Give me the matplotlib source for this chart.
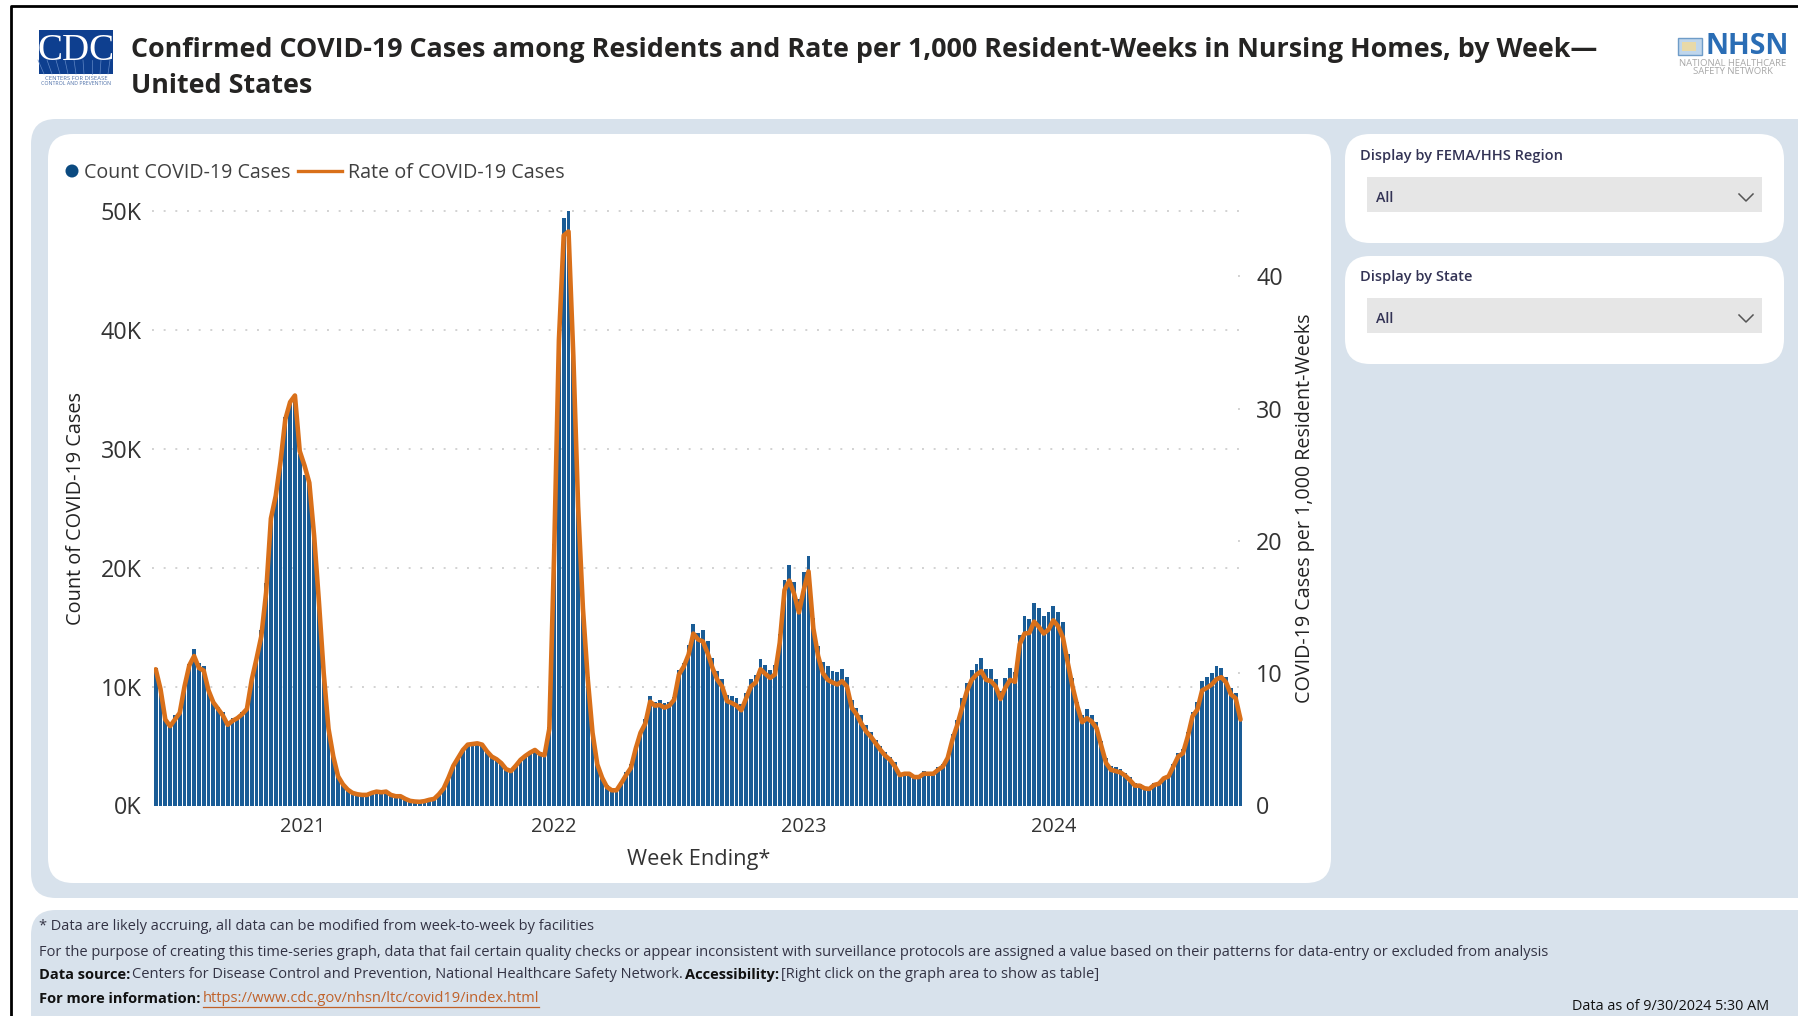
import matplotlib
matplotlib.use("Agg")
import matplotlib.pyplot as plt
import pandas as pd
from matplotlib.patches import FancyBboxPatch, Rectangle, Circle

plt.rcParams['font.family'] = ['Open Sans', 'DejaVu Sans']

# Weekly values, counts in thousands
countK = [
    11.6, 10.0, 7.4, 6.7, 7.6, 7.8, 10.3, 11.9, 13.2, 12.0,
    11.7, 9.7, 8.9, 8.3, 7.9, 6.8, 7.4, 7.4, 7.9, 8.2,
    10.7, 12.3, 14.8, 18.7, 24.0, 26.1, 29.4, 32.7, 33.8, 34.4,
    29.6, 27.8, 27.4, 22.6, 17.3, 10.9, 6.5, 4.1, 2.6, 1.8,
    1.4, 1.1, 0.95, 0.9, 0.9, 1.05, 1.15, 1.15, 1.15, 0.9,
    0.8, 0.8, 0.55, 0.4, 0.35, 0.3, 0.37, 0.5, 0.55, 0.95,
    1.5, 2.3, 3.2, 4.0, 4.7, 5.1, 5.2, 5.3, 5.1, 4.6,
    4.1, 3.9, 3.6, 3.1, 2.9, 3.3, 3.8, 4.2, 4.4, 4.6,
    4.5, 4.4, 6.6, 22.0, 38.7, 49.4, 50.0, 38.7, 25.4, 16.6,
    10.8, 6.3, 3.7, 2.5, 1.7, 1.35, 1.3, 2.0, 2.8, 3.5,
    5.0, 6.3, 7.3, 9.2, 8.7, 8.9, 8.6, 8.7, 9.1, 11.4,
    12.0, 13.5, 15.3, 14.5, 14.8, 13.8, 12.4, 11.3, 10.6, 9.3,
    9.2, 9.0, 8.5, 9.5, 10.6, 11.0, 12.3, 11.8, 11.4, 11.85,
    14.4, 19.0, 20.2, 18.8, 17.4, 19.6, 21.0, 15.8, 13.4, 12.1,
    11.7, 11.3, 11.2, 11.5, 10.8, 8.9, 8.2, 7.6, 6.8, 6.2,
    5.5, 5.0, 4.5, 4.1, 3.7, 2.7, 2.85, 2.85, 2.6, 2.6,
    2.9, 2.85, 2.85, 3.2, 3.5, 4.1, 6.0, 7.2, 9.0, 10.3,
    11.4, 11.9, 12.4, 11.5, 11.5, 10.6, 9.6, 10.7, 11.6, 11.2,
    14.3, 15.9, 15.7, 17.0, 16.6, 15.9, 16.3, 16.8, 16.3, 15.4,
    12.7, 10.7, 8.7, 7.6, 8.1, 7.6, 7.0, 5.4, 4.0, 3.3,
    3.2, 3.05, 2.7, 2.4, 1.9, 1.8, 1.55, 1.45, 1.9, 2.0,
    2.4, 2.6, 3.5, 4.4, 4.75, 6.2, 7.9, 8.7, 10.45, 10.8,
    11.15, 11.75, 11.6, 10.8, 9.85, 9.5, 7.1,
]
rate = [
    10.3, 8.8, 6.5, 6.0, 6.5, 7.0, 9.0, 10.6, 11.3, 10.4,
    10.2, 8.7, 7.8, 7.3, 6.8, 6.1, 6.4, 6.6, 6.9, 7.3,
    9.5, 11.1, 12.8, 16.1, 21.7, 23.4, 26.0, 29.2, 30.5, 31.0,
    26.8, 25.7, 24.4, 20.4, 15.4, 10.0, 5.8, 3.7, 2.2, 1.6,
    1.2, 0.95, 0.85, 0.8, 0.8, 0.95, 1.05, 1.0, 1.05, 0.8,
    0.7, 0.7, 0.5, 0.35, 0.3, 0.28, 0.33, 0.43, 0.5, 0.85,
    1.3, 2.1, 3.0, 3.6, 4.2, 4.6, 4.65, 4.7, 4.6, 4.1,
    3.7, 3.5, 3.2, 2.75, 2.6, 3.0, 3.45, 3.75, 4.0, 4.2,
    3.9, 3.8, 5.8, 19.0, 35.2, 43.1, 43.4, 34.0, 22.6, 14.9,
    9.6, 5.5, 3.1, 2.1, 1.4, 1.15, 1.15, 1.7, 2.3, 2.85,
    4.3, 5.5, 6.2, 7.85, 7.55, 7.6, 7.4, 7.55, 8.0, 9.9,
    10.5, 11.4, 13.0, 12.55, 12.4, 11.5, 10.4, 9.5, 9.0, 7.9,
    7.75, 7.55, 7.2, 8.1, 9.0, 9.3, 10.3, 9.95, 9.65, 9.9,
    12.3, 16.3, 17.0, 16.0, 14.6, 16.3, 17.7, 13.4, 11.3, 10.0,
    9.5, 9.3, 9.15, 9.4, 9.0, 7.4, 6.9, 6.2, 5.6, 5.2,
    4.7, 4.2, 3.76, 3.45, 2.95, 2.3, 2.4, 2.4, 2.15, 2.15,
    2.4, 2.4, 2.4, 2.7, 2.95, 3.6, 5.0, 6.1, 7.4, 8.65,
    9.5, 9.9, 10.15, 9.5, 9.4, 9.0, 8.05, 8.9, 9.5, 9.35,
    12.2, 13.0, 13.05, 13.9, 13.5, 13.0, 13.3, 14.0, 13.55, 12.7,
    10.8, 9.0, 7.5, 6.3, 6.6, 6.35, 5.85, 4.5, 3.2, 2.7,
    2.6, 2.5, 2.25, 1.9, 1.5, 1.5, 1.3, 1.25, 1.55, 1.65,
    2.05, 2.2, 2.95, 3.7, 3.95, 5.2, 6.75, 7.25, 8.7, 8.9,
    9.15, 9.55, 9.7, 9.3, 8.4, 8.1, 6.5,
]
weeks = pd.date_range("2020-05-31", periods=len(countK), freq="7D")

yearTicks = pd.to_datetime(["2021-01-01", "2022-01-01", "2023-01-01", "2024-01-01"])
yearLabels = ["2021", "2022", "2023", "2024"]
countTicks = [0, 10, 20, 30, 40, 50]
countLabels = ["0K", "10K", "20K", "30K", "40K", "50K"]
rateTicks = [0, 10, 20, 30, 40]

titleLines = ["Confirmed COVID-19 Cases among Residents and Rate per 1,000 Resident-Weeks in Nursing Homes, by Week\u2014",
              "United States"]

W, H = 1798, 1016
panelColor = "#D8E2EC"
barColor = "#1A5C96"
lineColor = "#D9701A"
gridColor = "#D2D2D2"
textColor = "#333333"
linkColor = "#C0622A"

fig = plt.figure(figsize=(W / 100, H / 100), dpi=100, facecolor="white")

# Page furniture is drawn in pixel coordinates on a full-figure axes
bg = fig.add_axes([0, 0, 1, 1])
bg.set_xlim(0, W)
bg.set_ylim(H, 0)
bg.axis("off")


def card(x0, y0, x1, y1, color, radius=25):
    bg.add_patch(FancyBboxPatch((x0, y0), x1 - x0, y1 - y0, boxstyle="round,pad=0,rounding_size=%d" % radius,
                                facecolor=color, edgecolor="none"))


def runs(x, y, parts, size=10.55, gap=2):
    # parts are (text, weight, colour); each one starts where the last ended
    renderer = fig.canvas.get_renderer()
    for s, weight, color in parts:
        t = bg.text(x, y, s, fontsize=size, fontweight=weight, color=color, va="center", ha="left")
        box = t.get_window_extent(renderer)
        if color == linkColor:
            bg.plot([x, x + box.width], [y + 8, y + 8], color=color, lw=0.9)
        x += box.width + gap


# Page border
bg.plot([11, 11, W], [H, 6, 6], color="black", lw=2)

card(31, 119, W + 40, 898, panelColor)
card(31, 910, W + 40, H + 40, panelColor)
card(48, 134, 1331, 883, "white")
card(1345, 134, 1784, 243, "white")
card(1345, 256, 1784, 364, "white")

# CDC logo
bg.add_patch(Rectangle((39, 30), 74, 44, facecolor="#0E3F8F", edgecolor="none"))
for i in range(9):
    bg.plot([44 + 8 * i, 38 + 9 * i], [74, 60], color="#5F86C4", lw=0.5)
bg.text(76, 51, "CDC", color="white", fontsize=27, family="Liberation Serif", ha="center", va="center")
bg.text(76, 78, "CENTERS FOR DISEASE", color="#4C6FA8", fontsize=4.2, ha="center", va="center")
bg.text(76, 83.5, "CONTROL AND PREVENTION", color="#4C6FA8", fontsize=3.8, ha="center", va="center")

# NHSN logo
bg.add_patch(Rectangle((1678, 38), 24, 17, facecolor="#BFD6EC", edgecolor="#6E9CC8", lw=1))
bg.add_patch(Rectangle((1682, 42), 14, 9, facecolor="#E8D9A8", edgecolor="none"))
bg.text(1747, 47, "NHSN", color="#2A6DB5", fontsize=20.5, fontweight="bold", ha="center", va="center")
bg.text(1733, 64, "NATIONAL HEALTHCARE", color="#A8A8A8", fontsize=6.8, ha="center", va="center")
bg.text(1733, 71.5, "SAFETY NETWORK", color="#A8A8A8", fontsize=6.8, ha="center", va="center")

# Title
bg.text(131, 50, titleLines[0], fontsize=19.35, fontweight="bold", color="#252423", va="center")
bg.text(131, 86, titleLines[1], fontsize=19.35, fontweight="bold", color="#252423", va="center")

# Legend
bg.add_patch(Circle((72, 171), 6.5, facecolor="#0B4A80", edgecolor="none"))
bg.text(84, 173, "Count COVID-19 Cases", fontsize=14.15, color="#404040", va="center")
bg.plot([298, 342], [171, 171], color=lineColor, lw=2.4)
bg.text(348, 173, "Rate of COVID-19 Cases", fontsize=14.2, color="#404040", va="center")

# Slicers
for top, label in [(155, "Display by FEMA/HHS Region"), (276, "Display by State")]:
    bg.text(1360, top + 1, label, fontsize=10.5, fontweight="semibold", color="#333355", va="center")
    bg.add_patch(Rectangle((1367, top + 22), 395, 35, facecolor="#E6E6E6", edgecolor="none"))
    bg.text(1376, top + 43, "All", fontsize=10.3, fontweight="semibold", color="#333355", va="center")
    bg.plot([1739, 1746, 1753], [top + 39, top + 46, top + 39], color="#555555", lw=1.1)

# Footnotes
textDark = "#333344"
runs(39, 927, [("* Data are likely accruing, all data can be modified from week-to-week by facilities", "normal", textDark)])
runs(39, 952, [("For the purpose of creating this time-series graph, data that fail certain quality checks or appear "
                "inconsistent with surveillance protocols are assigned a value based on their patterns for data-entry "
                "or excluded from analysis", "normal", textDark)])
runs(39, 975, [("Data source:", "bold", "#111111"),
               ("Centers for Disease Control and Prevention, National Healthcare Safety Network.", "normal", textDark),
               ("Accessibility:", "bold", "#111111"),
               ("[Right click on the graph area to show as table]", "normal", textDark)])
runs(39, 999, [("For more information:", "bold", "#111111"),
               ("https://www.cdc.gov/nhsn/ltc/covid19/index.html", "normal", linkColor)])
bg.text(1769, 1007, "Data as of 9/30/2024 5:30 AM", fontsize=10.4, color="#111111", ha="right", va="center")

# Chart
ax = fig.add_axes([154 / W, 1 - 805.5 / H, (1243 - 154) / W, (805.5 - 211) / H])
ax.patch.set_alpha(0)
ax.bar(weeks, countK, width=5.6, color=barColor, linewidth=0, zorder=2)
ax.set_xlim(weeks[0] - pd.Timedelta(days=2.5), weeks[0] + pd.Timedelta(days=1585.6))
ax.set_ylim(0, 50)
ax.hlines(countTicks[1:], -0.002, 1.0, transform=ax.get_yaxis_transform(), color=gridColor,
          linestyle=(0, (1, 5)), lw=1.4, zorder=0, clip_on=False)
ax.set_yticks(countTicks)
ax.set_yticklabels(countLabels, fontsize=16.8, color=textColor)
ax.set_xticks(yearTicks)
ax.set_xticklabels(yearLabels, fontsize=14.3, color=textColor)
ax.tick_params(axis="both", length=0)
ax.tick_params(axis="y", pad=9)
ax.tick_params(axis="x", pad=8)
ax.set_xlabel("Week Ending*", fontsize=15.7, color=textColor, labelpad=9)
ax.set_ylabel("Count of COVID-19 Cases", fontsize=14.3, color="#222222", labelpad=10.3)

ax2 = ax.twinx()
ax2.plot(weeks, rate, color=lineColor, lw=3.3, solid_joinstyle="round", solid_capstyle="round")
ax2.set_ylim(0, 44.95)
ax2.hlines(rateTicks[1:], 0.995, 1.004, transform=ax2.get_yaxis_transform(), color=gridColor,
           linestyle=(0, (1, 5)), lw=1.4, clip_on=False)
ax2.set_yticks(rateTicks)
ax2.set_yticklabels([str(v) for v in rateTicks], fontsize=16.8, color=textColor)
ax2.tick_params(axis="y", length=0, pad=9.5)
ax2.set_ylabel("COVID-19 Cases per 1,000 Resident-Weeks", fontsize=14.25, color="#222222", labelpad=8.5)
for spine in list(ax.spines.values()) + list(ax2.spines.values()):
    spine.set_visible(False)

fig.savefig("out.png", dpi=100)
